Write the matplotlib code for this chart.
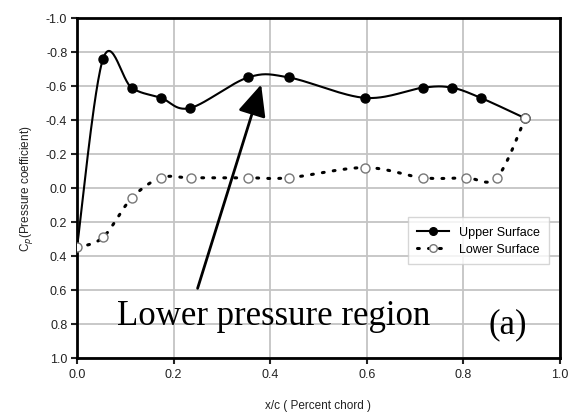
import matplotlib
matplotlib.use('Agg')
import matplotlib.pyplot as plt
import numpy as np

# Data
upper_x = [0.0, 0.054, 0.113, 0.174, 0.234, 0.354, 0.439, 0.596, 0.716, 0.776, 0.836, 0.928]
upper_cp = [0.35, -0.76, -0.59, -0.53, -0.47, -0.65, -0.65, -0.53, -0.59, -0.59, -0.53, -0.41]
lower_x = [0.0, 0.054, 0.113, 0.174, 0.236, 0.354, 0.439, 0.596, 0.716, 0.805, 0.869, 0.928]
lower_cp = [0.35, 0.29, 0.06, -0.06, -0.06, -0.06, -0.06, -0.12, -0.06, -0.06, -0.06, -0.41]
ticks = [0.0, 0.2, 0.4, 0.6, 0.8, 1.0]
yticks = [-1.0, -0.8, -0.6, -0.4, -0.2, 0.0, 0.2, 0.4, 0.6, 0.8, 1.0]


def smooth(xs, ys, n=30):
    # Catmull-Rom spline through the points (like a smoothed spreadsheet line)
    p = np.column_stack([xs, ys]).astype(float)
    p = np.vstack([p[0], p, p[-1]])
    out = []
    for i in range(1, len(p) - 2):
        p0, p1, p2, p3 = p[i - 1], p[i], p[i + 1], p[i + 2]
        t = np.linspace(0, 1, n)[:, None]
        seg = 0.5 * ((2 * p1) + (-p0 + p2) * t + (2 * p0 - 5 * p1 + 4 * p2 - p3) * t ** 2
                     + (-p0 + 3 * p1 - 3 * p2 + p3) * t ** 3)
        out.append(seg if i == 1 else seg[1:])
    out = np.vstack(out)
    return out[:, 0], out[:, 1]


plt.rcParams['font.family'] = ['Liberation Sans', 'DejaVu Sans']

fig = plt.figure(figsize=(5.72, 4.14), dpi=100)
ax = fig.add_axes([0.1346, 0.1329, 0.8444, 0.8213])

ux, uy = smooth(upper_x, upper_cp)
lx, ly = smooth(lower_x, lower_cp)

ax.plot(ux, uy, color='black', lw=1.5, zorder=3)
ax.plot(lx, ly, color='black', lw=2.2, linestyle=(0, (0.6, 3.0)), dash_capstyle='round', zorder=3)
ax.plot(upper_x[1:], upper_cp[1:], 'o', color='black', ms=6.5, zorder=4)
ax.plot(lower_x, lower_cp, 'o', mfc='white', mec='#777777', mew=1.0, ms=6.5, zorder=5)

# legend handles
h1, = ax.plot([], [], color='black', lw=1.5, marker='o', ms=5.5, label='Upper Surface')
h2, = ax.plot([], [], color='black', lw=2.2, linestyle=(0, (0.6, 3.0)), dash_capstyle='round',
              marker='o', mfc='white', mec='#777777', ms=5.5, label='Lower Surface')
leg = ax.legend(handles=[h1, h2], loc='upper right', bbox_to_anchor=(0.99, 0.432),
                fontsize=9, frameon=True, fancybox=False, edgecolor='#cccccc',
                handlelength=2.6, borderpad=0.7, labelspacing=0.4)
leg.get_frame().set_linewidth(1.0)

ax.set_xlim(0, 1)
ax.set_ylim(1, -1)
ax.set_xticks(ticks)
ax.set_yticks(yticks)
ax.set_xticklabels([f'{t:.1f}' for t in ticks])
ax.set_yticklabels([f'{t:.1f}' for t in yticks])
ax.grid(True, color='#c4c4c4', lw=1.3)
ax.set_axisbelow(True)
ax.tick_params(direction='out', length=4, width=1.5, labelsize=9, colors='#222222', pad=3)
for s in ax.spines.values():
    s.set_linewidth(2)
    s.set_color('black')

ax.set_xlabel('x/c ( Percent chord )', fontsize=8.5, color='#222222', labelpad=14)
ax.set_ylabel('C$_p$(Pressure coefficient)', fontsize=8.5, color='#222222', labelpad=8)

ax.annotate('', xy=(0.383, -0.624), xytext=(0.248, 0.606),
            arrowprops=dict(arrowstyle='-|>,head_length=0.55,head_width=0.25',
                            mutation_scale=35, lw=2, color='black'))
ax.text(0.083, 0.80, 'Lower pressure region', fontsize=25, family='Liberation Serif',
        va='baseline', ha='left', color='black')
ax.text(0.892, 0.847, '(a)', fontsize=25, family='Liberation Serif',
        va='baseline', ha='center', color='black')

fig.savefig('out.png', dpi=100)
